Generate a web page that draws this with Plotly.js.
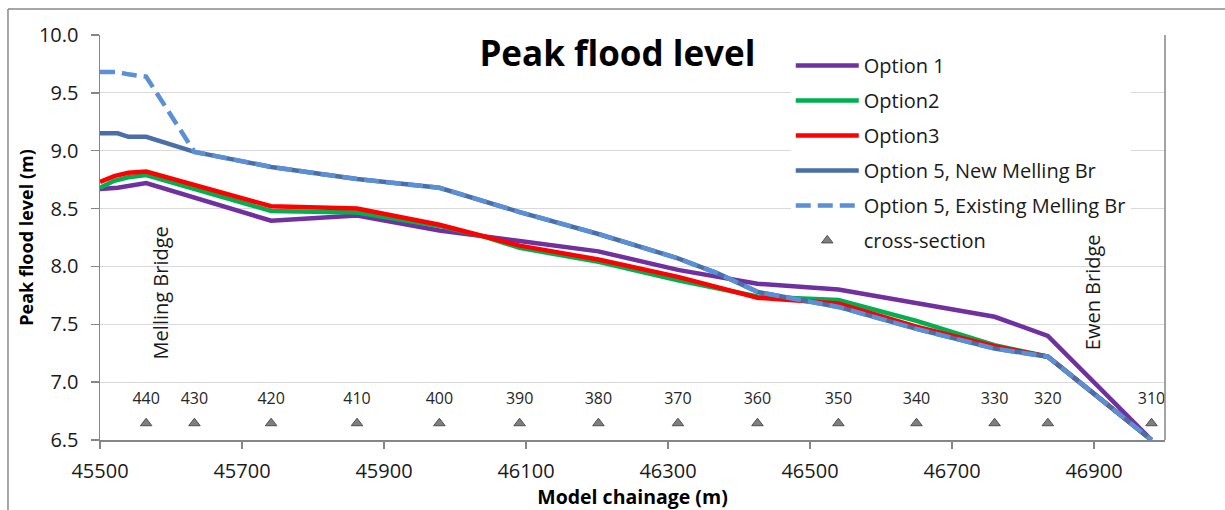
<!DOCTYPE html>
<html>
<head>
<meta charset="utf-8">
<script src="https://cdn.plot.ly/plotly-3.0.1.min.js"></script>
<style>html,body{margin:0;padding:0;background:#fff;}#chart{width:1225px;height:510px;}</style>
</head>
<body>
<div id="chart"></div>
<script>
// Chainage (m) and peak flood levels (m)
const opt1X = [45500, 45525, 45565, 45741, 45862, 45978, 46091, 46202, 46314, 46426, 46540, 46650, 46760, 46835, 46981];
const opt1Y = [8.67, 8.68, 8.72, 8.395, 8.44, 8.31, 8.22, 8.13, 7.97, 7.85, 7.80, 7.68, 7.565, 7.40, 6.50];

const opt2X = [45500, 45520, 45540, 45565, 45741, 45862, 45978, 46040, 46091, 46202, 46314, 46426, 46540, 46650, 46760, 46835, 46981];
const opt2Y = [8.68, 8.74, 8.77, 8.79, 8.48, 8.465, 8.35, 8.26, 8.16, 8.04, 7.88, 7.74, 7.71, 7.53, 7.32, 7.22, 6.50];

const opt3X = [45500, 45520, 45540, 45565, 45741, 45862, 45978, 46040, 46091, 46202, 46314, 46426, 46540, 46650, 46760, 46835, 46981];
const opt3Y = [8.73, 8.78, 8.81, 8.82, 8.52, 8.50, 8.36, 8.26, 8.18, 8.06, 7.91, 7.73, 7.68, 7.48, 7.31, 7.22, 6.50];

const opt5NewX = [45500, 45525, 45540, 45565, 45633, 45741, 45862, 45978, 46091, 46202, 46314, 46370, 46426, 46540, 46650, 46760, 46835, 46981];
const opt5NewY = [9.15, 9.15, 9.12, 9.12, 8.99, 8.86, 8.755, 8.68, 8.47, 8.28, 8.07, 7.94, 7.78, 7.65, 7.46, 7.29, 7.22, 6.50];

const opt5ExX = [45500, 45525, 45540, 45565, 45633, 45741, 45862, 45978, 46091, 46202, 46314, 46370, 46426, 46540, 46650, 46760, 46835, 46981];
const opt5ExY = [9.68, 9.68, 9.66, 9.64, 8.99, 8.86, 8.755, 8.68, 8.47, 8.28, 8.07, 7.94, 7.78, 7.65, 7.46, 7.29, 7.22, 6.50];

// Cross-sections
const xsChainage = [45565, 45633, 45741, 45862, 45978, 46091, 46202, 46314, 46426, 46540, 46650, 46760, 46835, 46981];
const xsLevel = [6.645, 6.645, 6.645, 6.645, 6.645, 6.645, 6.645, 6.645, 6.645, 6.645, 6.645, 6.645, 6.645, 6.645];
const xsLabels = ['440', '430', '420', '410', '400', '390', '380', '370', '360', '350', '340', '330', '320', '310'];

const FONT = 'Open Sans, Lato, sans-serif';
const LW = 4.5;

const traces = [
  {x: opt1X, y: opt1Y, name: 'Option 1', mode: 'lines', legendgroup: 'a',
   line: {color: '#7030A0', width: LW}},
  {x: opt2X, y: opt2Y, name: 'Option2', mode: 'lines', legendgroup: 'b',
   line: {color: '#00B050', width: LW}},
  {x: opt3X, y: opt3Y, name: 'Option3', mode: 'lines', legendgroup: 'c',
   line: {color: '#FF0000', width: LW}},
  {x: opt5NewX, y: opt5NewY, name: 'Option 5, New Melling Br', mode: 'lines', legendgroup: 'd',
   line: {color: '#4A6FA8', width: LW}},
  {x: opt5ExX, y: opt5ExY, name: 'Option 5, Existing Melling Br', mode: 'lines', legendgroup: 'e',
   line: {color: '#5B8FD6', width: LW, dash: '15px,7px'}},
  {x: xsChainage, y: xsLevel, name: 'cross-section', mode: 'markers', legendgroup: 'f',
   marker: {symbol: 'triangle-up', size: 10, color: '#7F7F7F', line: {color: '#505050', width: 1}}},
  {x: xsChainage, y: xsLevel, text: xsLabels, mode: 'markers+text', showlegend: false, hoverinfo: 'skip',
   textposition: 'top center', textfont: {family: FONT, size: 16, color: '#262626'},
   marker: {symbol: 'triangle-up', size: 22, opacity: 0}}
];

const layout = {
  width: 1225, height: 510,
  margin: {l: 100, r: 60, t: 35, b: 70},
  paper_bgcolor: '#ffffff', plot_bgcolor: '#ffffff',
  font: {family: FONT, size: 20, color: '#1a1a1a'},
  title: {text: '<b>Peak flood level</b>', font: {family: FONT, size: 35, color: '#000'},
          x: 0.504, xref: 'container', xanchor: 'center', y: 0.894, yref: 'container', yanchor: 'middle'},
  xaxis: {
    range: [45500, 47000], tick0: 45500, dtick: 200, tickformat: 'd', showgrid: false, zeroline: false,
    ticks: 'outside', ticklen: 7, tickwidth: 1.5, tickcolor: '#868686',
    showline: true, linecolor: '#868686', linewidth: 1.5, ticklabelstandoff: 5,
    tickfont: {family: FONT, size: 20, color: '#1a1a1a'},
    title: {text: '<b>Model chainage (m)</b>', font: {family: FONT, size: 19.5, color: '#000'}, standoff: 3}
  },
  yaxis: {
    range: [6.5, 10], dtick: 0.5, tickformat: '.1f', showgrid: true, gridcolor: '#D9D9D9', gridwidth: 1,
    zeroline: false, ticks: 'outside', ticklen: 8, tickwidth: 1.5, tickcolor: '#868686',
    showline: true, linecolor: '#868686', linewidth: 1.5, ticklabelstandoff: 8,
    tickfont: {family: FONT, size: 20, color: '#1a1a1a'},
    title: {text: '<b>Peak flood level (m)</b>', font: {family: FONT, size: 18, color: '#000'}, standoff: 0}
  },
  legend: {
    x: 0.6486, y: 0.973, xanchor: 'left', yanchor: 'top', bgcolor: '#ffffff', borderwidth: 0,
    font: {family: FONT, size: 20, color: '#1a1a1a'}, itemwidth: 63, tracegroupgap: 6,
    traceorder: 'grouped'
  },
  shapes: [
    {type: 'line', xref: 'paper', yref: 'paper', x0: 1, x1: 1, y0: 0, y1: 1, line: {color: '#868686', width: 1.5}},
    {type: 'line', xref: 'paper', yref: 'paper', x0: -0.0864, x1: -0.0864, y0: -0.18, y1: 1.0642, line: {color: '#898989', width: 1.5}},
    {type: 'line', xref: 'paper', yref: 'paper', x0: -0.0864, x1: 1.07, y0: 1.0642, y1: 1.0642, line: {color: '#898989', width: 1.5}}
  ],
  annotations: [
    {text: 'Melling Bridge', x: 45585, y: 7.77, xref: 'x', yref: 'y', textangle: -90, showarrow: false,
     font: {family: FONT, size: 20, color: '#1a1a1a'}},
    {text: 'Ewen Bridge', x: 46899, y: 7.78, xref: 'x', yref: 'y', textangle: -90, showarrow: false,
     font: {family: FONT, size: 20, color: '#1a1a1a'}}
  ],
  showlegend: true
};

Plotly.newPlot('chart', traces, layout, {displayModeBar: false, staticPlot: true});
</script>
</body>
</html>
